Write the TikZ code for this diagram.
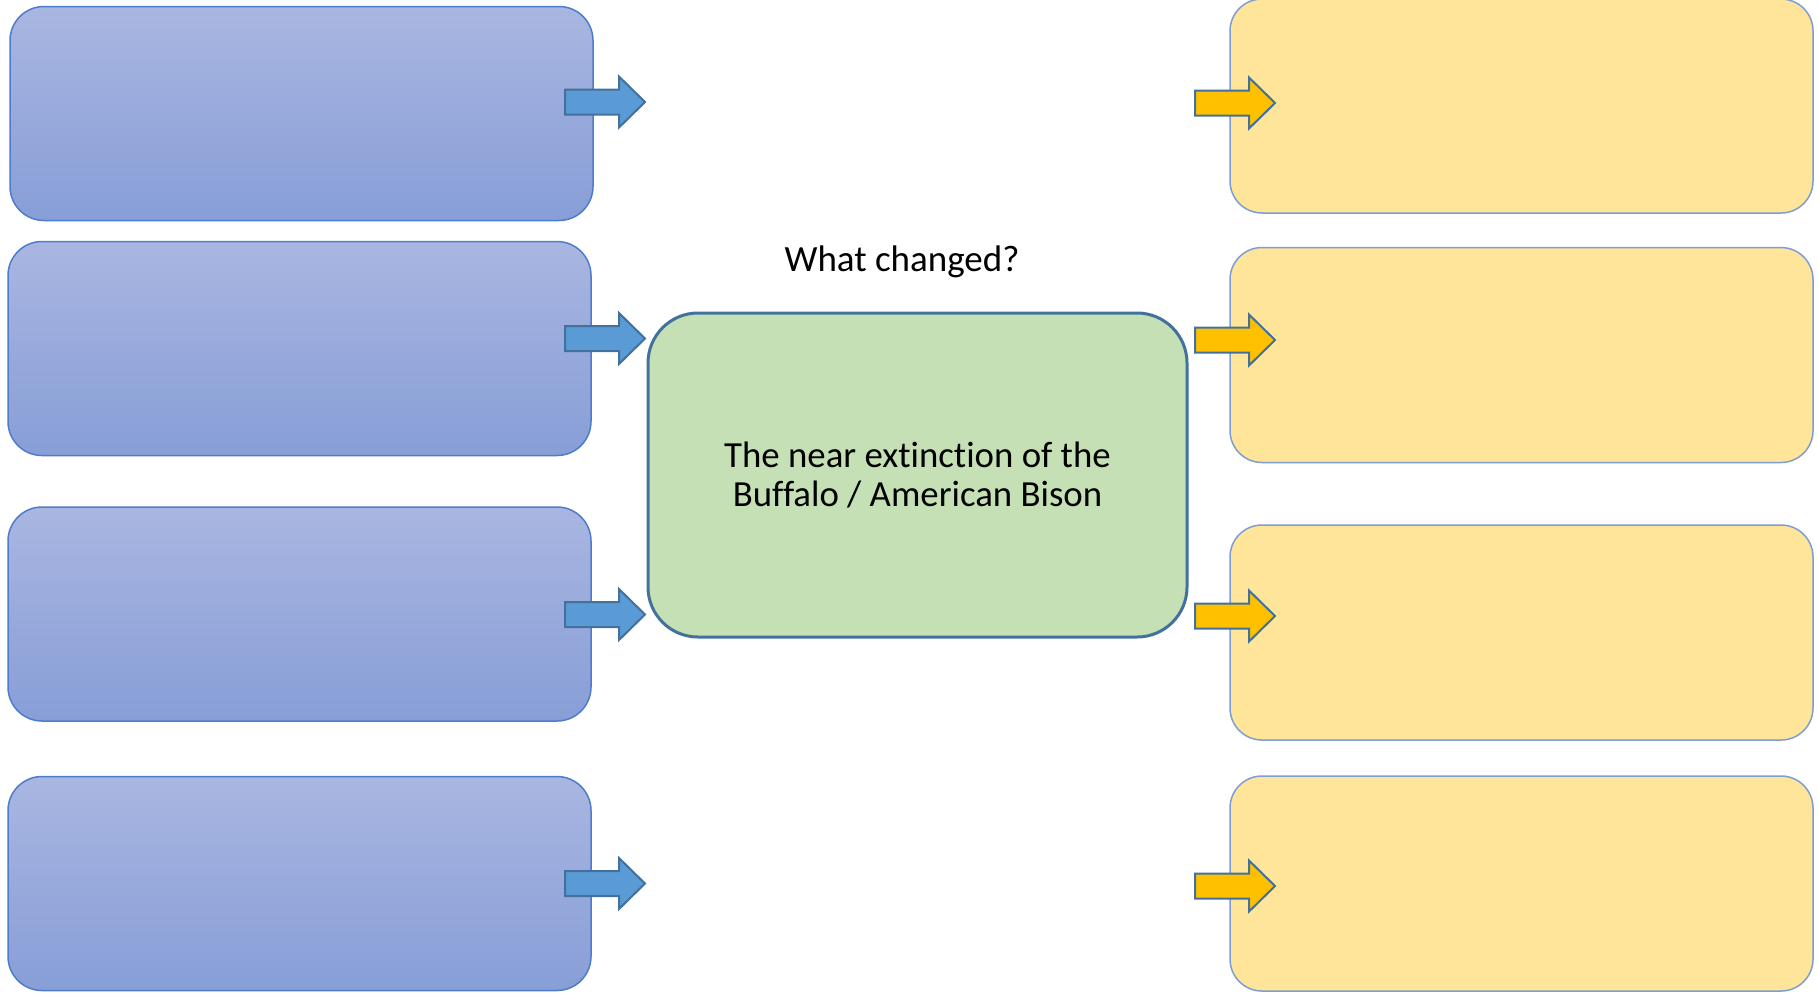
\documentclass[tikz,border=0pt]{standalone}
\usepackage{fontspec}
\setmainfont{Carlito}[Ligatures={NoCommon}]
\definecolor{lbtop}{HTML}{A9B6E1}
\definecolor{lbbot}{HTML}{879ED7}
\definecolor{lbline}{HTML}{4F7BCB}
\definecolor{rfill}{HTML}{FEE599}
\definecolor{rline}{HTML}{7E9DD2}
\definecolor{cfill}{HTML}{C5E0B4}
\definecolor{cline}{HTML}{41719C}
\definecolor{barfill}{HTML}{5B9BD5}
\definecolor{yarfill}{HTML}{FFC000}
\tikzset{
  leftbox/.style={draw=lbline, line width=0.75pt, rounded corners=17pt, top color=lbtop, bottom color=lbbot, minimum width=291.5pt, minimum height=107pt, inner sep=0pt},
  rightbox/.style={draw=rline, line width=0.75pt, rounded corners=16pt, fill=rfill, minimum width=291.5pt, minimum height=107.5pt, inner sep=0pt},
  centerbox/.style={draw=cline, line width=1.5pt, rounded corners=25pt, fill=cfill, minimum width=269.5pt, minimum height=162pt, inner sep=0pt, align=center, font=\fontsize{18.4}{19.6}\selectfont},
  blockarrow/.pic={\draw[line width=1pt, draw=cline, fill=#1] (0,-12.5) -- (54,-12.5) -- (54,-25.5) -- (80,0) -- (54,25.5) -- (54,12.5) -- (0,12.5) -- cycle;}
}
\begin{document}
\begin{tikzpicture}[x=0.5pt,y=-0.5pt]
\useasboundingbox (0,0) rectangle (1818,992);
% left boxes
\node[leftbox] (L1) at (301.5,113.5) {};
\node[leftbox] (L2) at (299.5,348.5) {};
\node[leftbox] (L3) at (299.5,614) {};
\node[leftbox] (L4) at (299.5,883.5) {};
% right boxes
\node[rightbox, minimum height=107pt] (R1) at (1521.5,106) {};
\node[rightbox] (R2) at (1521.5,355) {};
\node[rightbox] (R3) at (1521.5,632.5) {};
\node[rightbox] (R4) at (1521.5,883.5) {};
% center
\node[centerbox] (C) at (917.5,475) {The near extinction of the\\Buffalo / American Bison};
\node[font=\fontsize{18.5}{20}\selectfont, inner sep=0pt] (T) at (902,262) {What changed?};
% arrows
\pic at (565,102) {blockarrow=barfill};
\pic at (565,338.5) {blockarrow=barfill};
\pic at (565,614.5) {blockarrow=barfill};
\pic at (565,883.5) {blockarrow=barfill};
\pic at (1195,103) {blockarrow=yarfill};
\pic at (1195,340) {blockarrow=yarfill};
\pic at (1195,616) {blockarrow=yarfill};
\pic at (1195,886) {blockarrow=yarfill};
\end{tikzpicture}
\end{document}
